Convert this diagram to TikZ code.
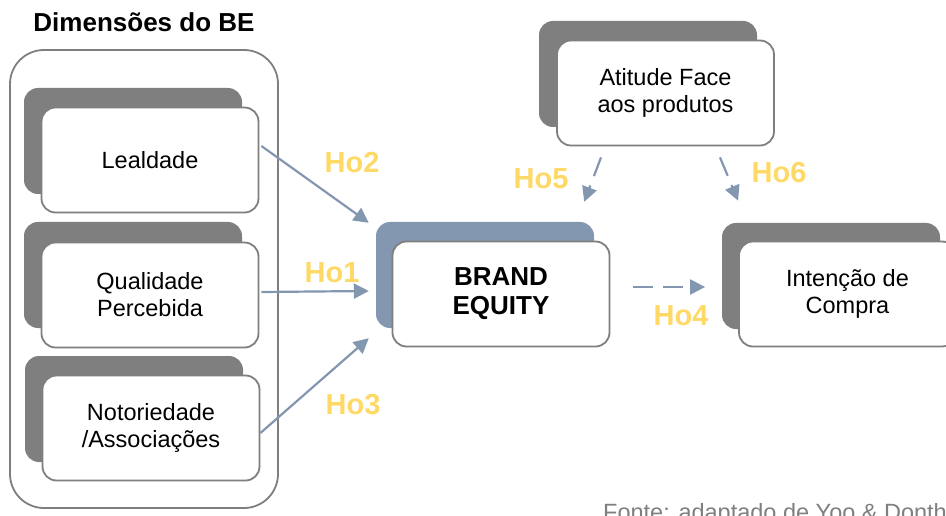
\documentclass[tikz,border=0pt]{standalone}
\usepackage{fontspec}
\setmainfont{Liberation Sans}
\usetikzlibrary{arrows.meta,calc}

\definecolor{boxgray}{HTML}{7F7F7F}
\definecolor{steel}{HTML}{8497B0}
\definecolor{gold}{HTML}{FFD966}
\definecolor{notegray}{HTML}{7F7F7F}

\tikzset{
  bodyfont/.style={font=\fontsize{23.5}{27}\selectfont},
  dimbox/.style={draw=boxgray, line width=1.8pt, fill=white, rounded corners=14pt,
    minimum width=217pt, minimum height=105pt, align=center, inner sep=0pt, bodyfont},
  backbox/.style={fill=#1, rounded corners=14pt, minimum width=218pt,
    minimum height=106pt, inner sep=0pt},
  hyplabel/.style={text=gold, anchor=base, font=\bfseries\fontsize{29}{32}\selectfont},
  link/.style={draw=steel, line width=2.2pt, -{Triangle[length=15pt,width=15pt]}},
  dashlink/.style={link, dash pattern=on 20pt off 10pt},
}

\begin{document}
\begin{tikzpicture}[x=1pt,y=-1pt]
  \clip (0,0) rectangle (946,516);
  \fill[white] (0,0) rectangle (946,516);

  % group frame and its heading
  \node[draw=boxgray, line width=1.8pt, rounded corners=34pt, minimum width=268pt,
        minimum height=458pt, inner sep=0pt] (frame) at (144,279) {};
  \node[anchor=base, font=\bfseries\fontsize{26}{30}\selectfont] (title) at (144,32) {Dimensões do BE};

  % brand equity dimensions
  \node[backbox=boxgray] (leas) at (133,141) {};
  \node[dimbox] (lea) at (150,160) {Lealdade};
  \node[backbox=boxgray] (quas) at (133,275) {};
  \node[dimbox] (qua) at (150,295) {Qualidade\\Percebida};
  \node[backbox=boxgray] (nots) at (134,409) {};
  \node[dimbox] (not) at (151,428) {Notoriedade\\/Associações};

  % brand equity
  \node[backbox=steel] (bes) at (485,275) {};
  \node[dimbox, font=\bfseries\fontsize{26}{29}\selectfont] (be) at (501,294) {BRAND\\EQUITY};

  % attitude towards the products
  \node[backbox=boxgray] (atis) at (648,74) {};
  \node[dimbox] (ati) at (665.5,93) {Atitude Face\\aos produtos};

  % purchase intention
  \node[backbox=boxgray] (ints) at (831,276) {};
  \node[dimbox] (int) at (847.5,294) {Intenção de\\Compra};

  % hypotheses
  \draw[link] ($(lea.east)+(2,-14)$) -- ($(bes.north west)+(-7,1)$);
  \draw[link] ($(qua.east)+(2,-3)$) -- ($(bes.west)+(-7,16)$);
  \draw[link] ($(not.east)+(0,5)$) -- ($(bes.south west)+(-7,10)$);
  \draw[dashlink] ($(be.east)+(23,-7)$) -- ($(int.west)+(-33,-7)$);
  \draw[dashlink] ($(ati.south)+(-64.5,11)$) -- ($(bes.north east)+(-10,-20)$);
  \draw[dashlink] ($(ati.south)+(54.5,11)$) -- ($(int.north west)+(0,-40)$);

  \node[hyplabel] (h2) at (352,173) {Ho2};
  \node[hyplabel] (h1) at (332,282) {Ho1};
  \node[hyplabel] (h3) at (353,414) {Ho3};
  \node[hyplabel] (h5) at (541,189) {Ho5};
  \node[hyplabel] (h6) at (779,183) {Ho6};
  \node[hyplabel] (h4) at (681,325) {Ho4};

  % source note
  \node[anchor=base west, inner sep=0pt, text=notegray, bodyfont] (src) at (603,520)
    {Fonte: adaptado de Yoo \& Donthu};
\end{tikzpicture}
\end{document}
